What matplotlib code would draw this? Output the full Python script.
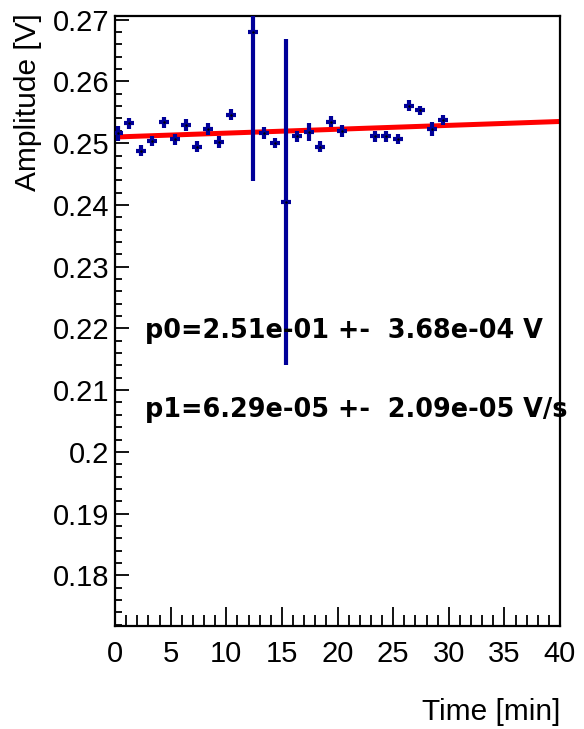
import matplotlib.pyplot as plt
import numpy as np
from matplotlib.ticker import MultipleLocator

# Measured amplitude vs. time
TIME = [0.3, 1.3, 2.3, 3.35, 4.4, 5.4, 6.35, 7.35, 8.4, 9.35, 10.4,
        12.4, 13.4, 14.4, 15.35, 16.35, 17.4, 18.4, 19.4, 20.4,
        23.4, 24.4, 25.4, 26.4, 27.4, 28.45, 29.45]
AMPL = [0.2516, 0.2532, 0.2488, 0.2504, 0.2534, 0.2506, 0.2529, 0.2494, 0.2523, 0.2502, 0.2546,
        0.2680, 0.2516, 0.2501, 0.2404, 0.2511, 0.2518, 0.2494, 0.2535, 0.2520,
        0.2511, 0.2511, 0.2507, 0.2561, 0.2553, 0.2523, 0.2537]
AMPL_ERR = [0.0012, 0.0009, 0.0009, 0.0008, 0.0009, 0.0009, 0.0010, 0.0009, 0.0009, 0.0009, 0.0009,
            0.0242, 0.0010, 0.0008, 0.0264, 0.0009, 0.0014, 0.0009, 0.0009, 0.0010,
            0.0009, 0.0009, 0.0008, 0.0009, 0.0008, 0.0012, 0.0008]
TIME_ERR = 0.45

# Linear fit result
P0, P0_ERR = 2.51e-01, 3.68e-04
P1, P1_ERR = 6.29e-05, 2.09e-05

BLUE = '#000099'
FONT = 'Liberation Sans'
TEXTSIZE = 21

if __name__ == '__main__':
    fig = plt.figure(figsize=[5.84, 7.29], dpi=100)
    ax = fig.add_axes([115 / 584, 1 - 626 / 729, 445 / 584, 610 / 729])

    ax.errorbar(TIME, AMPL, yerr=AMPL_ERR, xerr=TIME_ERR, fmt='none',
                ecolor=BLUE, elinewidth=3, capsize=0, zorder=3)
    ax.plot(TIME, AMPL, 'k.', ms=1.5, zorder=4)

    # Straight-line fit over the full time range
    xfit = np.array([0, 40])
    ax.plot(xfit, P0 + P1 * xfit, color='red', lw=3.6, zorder=2)

    ax.set_xlim(0, 40)
    ax.set_ylim(0.1718, 0.2706)
    ax.xaxis.set_major_locator(MultipleLocator(5))
    ax.xaxis.set_minor_locator(MultipleLocator(1))
    ax.yaxis.set_major_locator(MultipleLocator(0.01))
    ax.yaxis.set_minor_locator(MultipleLocator(0.002))
    ax.yaxis.set_major_formatter(plt.FuncFormatter(lambda v, p: ('%.2f' % v).rstrip('0')))

    ax.tick_params(which='both', direction='in', top=False, right=False, width=1.3)
    ax.tick_params(axis='x', which='major', length=13.5, pad=10)
    ax.tick_params(axis='x', which='minor', length=8)
    ax.tick_params(axis='y', which='major', length=10, pad=4)
    ax.tick_params(axis='y', which='minor', length=5)
    for lab in ax.get_xticklabels() + ax.get_yticklabels():
        lab.set_fontfamily(FONT)
        lab.set_fontsize(TEXTSIZE)
    for sp in ax.spines.values():
        sp.set_linewidth(1.6)

    fig.text(560 / 584, 1 - 712 / 729, 'Time [min]', ha='right', va='center',
             family=FONT, fontsize=21.5)
    fig.text(28 / 584, 1 - 13 / 729, 'Amplitude [V]', rotation=90, ha='center', va='top',
             family=FONT, fontsize=21.5)

    fig.text(145 / 584, 1 - 338 / 729, 'p0=%.2e +-  %.2e V' % (P0, P0_ERR),
             ha='left', va='baseline', family='DejaVu Sans', weight='bold', fontsize=18.4)
    fig.text(145 / 584, 1 - 417 / 729, 'p1=%.2e +-  %.2e V/s' % (P1, P1_ERR),
             ha='left', va='baseline', family='DejaVu Sans', weight='bold', fontsize=18.4)

    plt.savefig('out.png', dpi=100)
